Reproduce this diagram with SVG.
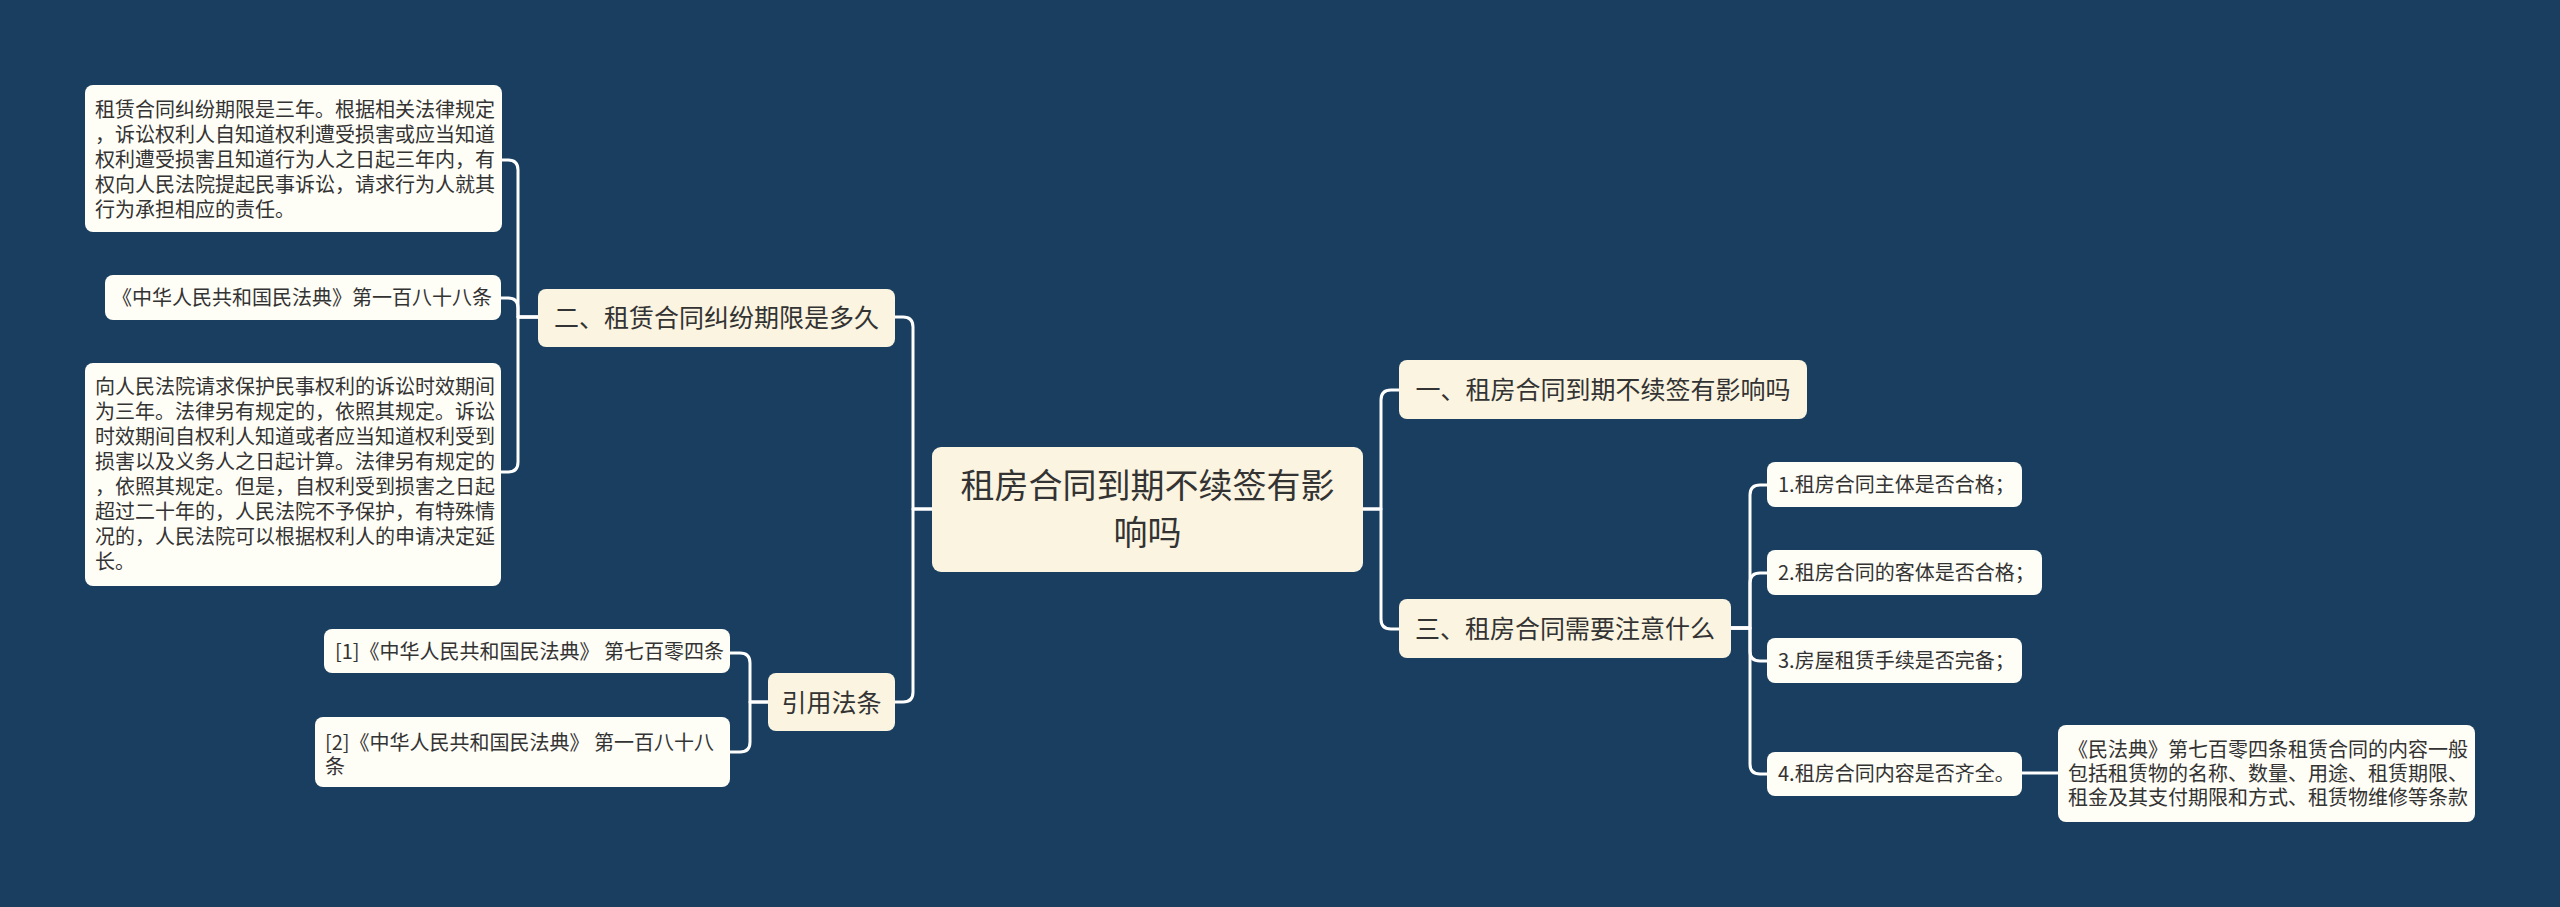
<svg xmlns="http://www.w3.org/2000/svg" width="2560" height="907" viewBox="0 0 2560 907">
<style>
.bg{fill:#193e5f}
.main{fill:#faf4e0}
.leaf{fill:#fefdf6}
.t{font-family:"Noto Sans CJK SC","Liberation Sans",sans-serif;fill:#333333}
.s20{font-size:20px}
.s25{font-size:25px}
.s34{font-size:34px}
.mid{text-anchor:middle}
.conn path{fill:none;stroke:#ffffff;stroke-width:3;stroke-linecap:round;stroke-linejoin:round}
</style>
<rect class="bg" x="0" y="0" width="2560" height="907"/>
<g id="connectors" class="conn">
<path d="M932 509 H913 V327 Q913 317 903 317 H895"/>
<path d="M932 509 H913 V692 Q913 702 903 702 H895"/>
<path d="M538 317 H518 V170 Q518 160 508 160 H501"/>
<path d="M538 317 H518 V308 Q518 298 508 298 H501"/>
<path d="M538 317 H518 V462 Q518 472 508 472 H501"/>
<path d="M768 702 H750 V663 Q750 653 740 653 H730"/>
<path d="M768 702 H750 V742 Q750 752 740 752 H730"/>
<path d="M1362 509 H1381 V400 Q1381 390 1391 390 H1399"/>
<path d="M1362 509 H1381 V619 Q1381 629 1391 629 H1399"/>
<path d="M1731 628 H1750 V495 Q1750 485 1760 485 H1767"/>
<path d="M1731 628 H1750 V583 Q1750 573 1760 573 H1767"/>
<path d="M1731 628 H1750 V651 Q1750 661 1760 661 H1767"/>
<path d="M1731 628 H1750 V764 Q1750 774 1760 774 H1767"/>
<path d="M2022 773 H2058"/>
</g>
<g id="root">
<rect class="main" x="932" y="447" width="431" height="125" rx="9"/>
<text class="t s34 mid" x="1147.5" y="498">租房合同到期不续签有影</text>
<text class="t s34 mid" x="1147.5" y="545">响吗</text>
</g>
<g id="n2">
<rect class="main" x="538" y="289" width="357" height="58" rx="8"/>
<text class="t s25 mid" x="716.5" y="327">二、租赁合同纠纷期限是多久</text>
</g>
<g id="n2a">
<rect class="leaf" x="85" y="85" width="417" height="147" rx="8"/>
<text class="t s20" x="95" y="117">租赁合同纠纷期限是三年。根据相关法律规定</text>
<text class="t s20" x="95" y="142">，诉讼权利人自知道权利遭受损害或应当知道</text>
<text class="t s20" x="95" y="167">权利遭受损害且知道行为人之日起三年内，有</text>
<text class="t s20" x="95" y="192">权向人民法院提起民事诉讼，请求行为人就其</text>
<text class="t s20" x="95" y="217">行为承担相应的责任。</text>
</g>
<g id="n2b">
<rect class="leaf" x="105" y="275" width="396" height="45" rx="8"/>
<text class="t s20" x="112" y="305">《中华人民共和国民法典》第一百八十八条</text>
</g>
<g id="n2c">
<rect class="leaf" x="85" y="363" width="416" height="223" rx="8"/>
<text class="t s20" x="95" y="394">向人民法院请求保护民事权利的诉讼时效期间</text>
<text class="t s20" x="95" y="419">为三年。法律另有规定的，依照其规定。诉讼</text>
<text class="t s20" x="95" y="444">时效期间自权利人知道或者应当知道权利受到</text>
<text class="t s20" x="95" y="469">损害以及义务人之日起计算。法律另有规定的</text>
<text class="t s20" x="95" y="494">，依照其规定。但是，自权利受到损害之日起</text>
<text class="t s20" x="95" y="519">超过二十年的，人民法院不予保护，有特殊情</text>
<text class="t s20" x="95" y="544">况的，人民法院可以根据权利人的申请决定延</text>
<text class="t s20" x="95" y="569">长。</text>
</g>
<g id="ref">
<rect class="main" x="768" y="673" width="127" height="58" rx="8"/>
<text class="t s25 mid" x="831.5" y="712">引用法条</text>
</g>
<g id="ref1">
<rect class="leaf" x="324" y="629" width="406" height="44" rx="8"/>
<text class="t s20" x="335" y="659">[1]《中华人民共和国民法典》 第七百零四条</text>
</g>
<g id="ref2">
<rect class="leaf" x="315" y="717" width="415" height="70" rx="8"/>
<text class="t s20" x="325" y="750">[2]《中华人民共和国民法典》 第一百八十八</text>
<text class="t s20" x="325" y="774">条</text>
</g>
<g id="n1">
<rect class="main" x="1399" y="360" width="408" height="59" rx="8"/>
<text class="t s25 mid" x="1603" y="399">一、租房合同到期不续签有影响吗</text>
</g>
<g id="n3">
<rect class="main" x="1399" y="599" width="332" height="59" rx="8"/>
<text class="t s25 mid" x="1565" y="638">三、租房合同需要注意什么</text>
</g>
<g id="n3a">
<rect class="leaf" x="1767" y="462" width="255" height="45" rx="8"/>
<text class="t s20" x="1778" y="492">1.租房合同主体是否合格；</text>
</g>
<g id="n3b">
<rect class="leaf" x="1767" y="550" width="275" height="45" rx="8"/>
<text class="t s20" x="1778" y="580">2.租房合同的客体是否合格；</text>
</g>
<g id="n3c">
<rect class="leaf" x="1767" y="638" width="255" height="45" rx="8"/>
<text class="t s20" x="1778" y="668">3.房屋租赁手续是否完备；</text>
</g>
<g id="n3d">
<rect class="leaf" x="1767" y="752" width="255" height="44" rx="8"/>
<text class="t s20" x="1778" y="781">4.租房合同内容是否齐全。</text>
</g>
<g id="n3d1">
<rect class="leaf" x="2058" y="725" width="417" height="97" rx="8"/>
<text class="t s20" x="2068" y="757">《民法典》第七百零四条租赁合同的内容一般</text>
<text class="t s20" x="2068" y="781">包括租赁物的名称、数量、用途、租赁期限、</text>
<text class="t s20" x="2068" y="805">租金及其支付期限和方式、租赁物维修等条款</text>
</g>
</svg>
